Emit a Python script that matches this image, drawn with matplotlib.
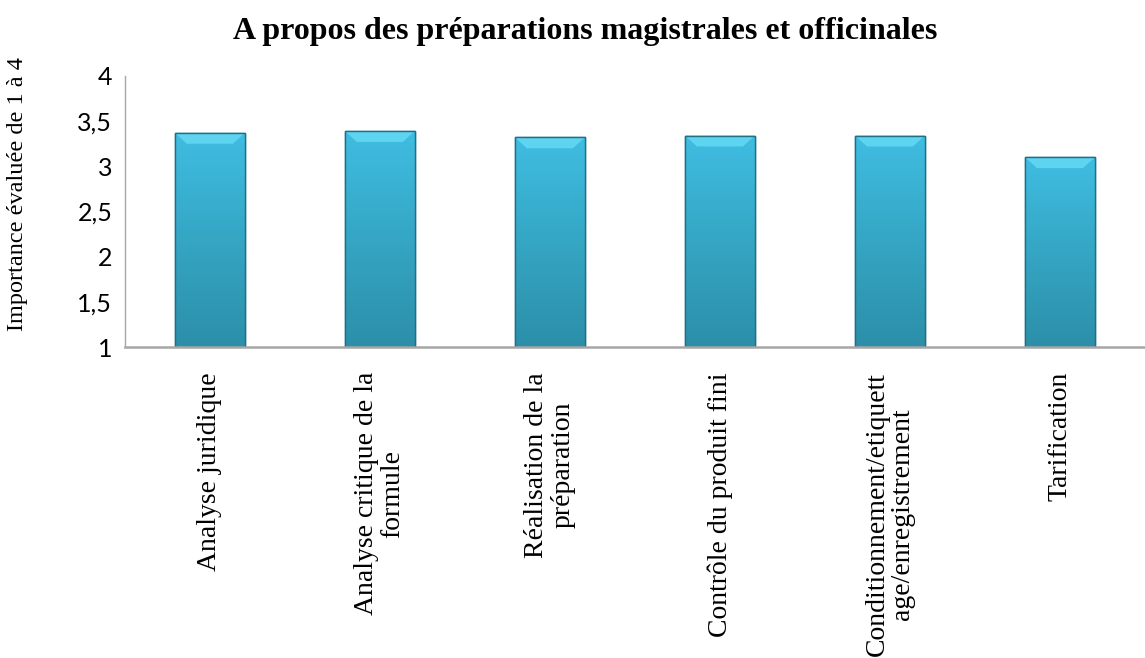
import matplotlib
matplotlib.use("Agg")
import matplotlib.pyplot as plt
import numpy as np
from matplotlib.colors import LinearSegmentedColormap
from matplotlib.patches import Polygon

categories = [
    "Analyse juridique",
    "Analyse critique de la\nformule",
    "Réalisation de la\npréparation",
    "Contrôle du produit fini",
    "Conditionnement/etiquett\nage/enregistrement",
    "Tarification",
]
values = [3.37, 3.39, 3.32, 3.34, 3.34, 3.10]
yticks = [1, 1.5, 2, 2.5, 3, 3.5, 4]
ytick_labels = ["1", "1,5", "2", "2,5", "3", "3,5", "4"]
title = "A propos des préparations magistrales et officinales"
ylabel = "Importance évaluée de 1 à 4"

fig = plt.figure(figsize=(11.45, 6.58), dpi=100)
ax = fig.add_axes([0.109, 0.4726, 0.891, 0.4119])

x = np.arange(len(categories))
width = 0.41
bars = ax.bar(x, np.array(values) - 1, width=width, bottom=1,
              color="#38aacb", edgecolor="#1f6f85", linewidth=1.0, zorder=2)

cmap = LinearSegmentedColormap.from_list("g", ["#2c8fa9", "#35a6c4", "#3fbde2"])
grad = np.linspace(0, 1, 256).reshape(-1, 1)
for b in bars:
    x0, y0 = b.get_x(), b.get_y()
    w, h = b.get_width(), b.get_height()
    im = ax.imshow(grad, extent=(x0, x0 + w, y0, y0 + h), origin="lower",
                   cmap=cmap, aspect="auto", zorder=2.1)
    im.set_clip_path(b)
    bev_w = w * 0.17
    bev_h = 0.12
    top = y0 + h
    poly = Polygon([(x0, top), (x0 + w, top), (x0 + w - bev_w, top - bev_h),
                    (x0 + bev_w, top - bev_h)], closed=True,
                   facecolor="#5fd4f1", edgecolor="none", zorder=2.2)
    ax.add_patch(poly)
    edge = plt.Rectangle((x0, y0), w, h, fill=False, edgecolor="#1f6f85",
                         linewidth=1.0, zorder=2.3)
    ax.add_patch(edge)

ax.set_xlim(-0.5, 5.5)
ax.set_ylim(1, 4)
ax.set_yticks(yticks)
ax.set_yticklabels(ytick_labels, fontsize=18, family="Lato")
ax.set_xticks(x)
ax.set_xticklabels(categories, rotation=90, fontsize=20, family="Liberation Serif",
                   va="top", ha="center", multialignment="center",
                   linespacing=1.05)
ax.tick_params(axis="both", length=0)
ax.tick_params(axis="y", pad=9)
ax.tick_params(axis="x", pad=18)

for s in ["top", "right"]:
    ax.spines[s].set_visible(False)
ax.spines["left"].set_color("#a6a6a6")
ax.spines["bottom"].set_color("#a6a6a6")
ax.spines["bottom"].set_linewidth(1.8)
ax.spines["left"].set_linewidth(1.0)

fig.text(18 / 1145, 1 - 194 / 658, ylabel, rotation=90, ha="center", va="center",
         fontsize=17.5, family="Liberation Serif")
fig.text(0.511, 1 - 31 / 658, title, ha="center", va="center", fontsize=23,
         fontweight="bold", family="Liberation Serif")

fig.savefig("out.png", dpi=100)
